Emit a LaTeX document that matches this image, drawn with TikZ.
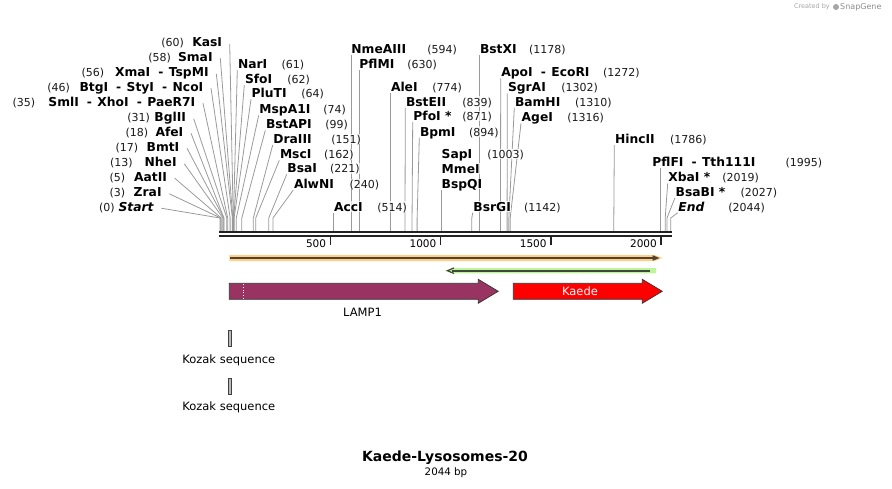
\documentclass[tikz,border=0pt]{standalone}
\usepackage{fontspec}
\setmainfont{DejaVu Sans}
\usetikzlibrary{calc}
\pgfdeclarelayer{bg}
\pgfsetlayers{bg,main}
\definecolor{cutgray}{HTML}{9A9A9A}
\definecolor{rulerdark}{HTML}{222222}
\definecolor{lampfill}{HTML}{993362}
\definecolor{orangeband}{HTML}{FFCF87}
\definecolor{orangeline}{HTML}{4F4434}
\definecolor{greenband}{HTML}{BEF59C}
\definecolor{greenline}{HTML}{3E4A38}
\definecolor{postext}{HTML}{1A1A1A}
\definecolor{kozakfill}{HTML}{BBBBBB}
\newcommand\siteX[1]{220+0.2205*#1}
\newcommand\ensep{\hspace{8pt}-\hspace{5.5pt}}
\newcommand\leftenz[6]{%
  \coordinate (s#1) at ({\siteX{#2}},218);
  \coordinate (r#1) at ({\siteX{#2}},231.3);
  \node[poslabel, anchor=west] (p#1) at (#4,#6) {(#2)};
  \node[namelabel, anchor=east] (n#1) at (#5,#6) {#3};
  \coordinate (t#1) at ($(n#1.east)+(7,1.5)$);
  \begin{pgfonlayer}{bg}
  \draw[cutline] (t#1) -- (s#1) -- (r#1);
  \end{pgfonlayer}}
\newcommand\rightenz[6]{%
  \coordinate (s#1) at ({\siteX{#2}},218);
  \coordinate (r#1) at ({\siteX{#2}},231.3);
  \node[namelabel, anchor=west] (n#1) at (#4,#6) {#3};
  \node[poslabel, anchor=west] (p#1) at (#5,#6) {(#2)};
  \coordinate (t#1) at ({max(\siteX{#2},#4)},{#6+6});
  \begin{pgfonlayer}{bg}
  \draw[cutline] (t#1) -- (s#1) -- (r#1);
  \end{pgfonlayer}}
\begin{document}
\begin{tikzpicture}[x=1pt,y=-1pt,
  namelabel/.style={font=\fontsize{12.3}{14}\selectfont\bfseries, inner xsep=0.5pt, inner ysep=1pt, text height=8.8pt, text depth=0pt, fill=white, fill opacity=0.7, text opacity=1},
  poslabel/.style={font=\fontsize{11}{13}\selectfont, text=postext, inner xsep=0.5pt, inner ysep=1pt, text height=8.8pt, text depth=0pt, fill=white, fill opacity=0.7, text opacity=1},
  cutline/.style={draw=cutgray, line width=0.8pt},
  rulerline/.style={draw=rulerdark, line width=2pt},
  tickmark/.style={draw=rulerdark, line width=1.5pt},
  ticklabel/.style={font=\fontsize{10.5}{12}\selectfont, inner sep=0pt},
  featlabel/.style={font=\fontsize{11.5}{13}\selectfont, inner sep=0pt},
  featborder/.style={draw=black!80, line width=0.7pt},
  kozakbox/.style={fill=kozakfill, draw=black!75, line width=0.6pt}
]
\useasboundingbox (0,0) rectangle (892,488);

% logo
\node[font=\fontsize{6.5}{8}\selectfont, text=black!35, inner sep=0pt, anchor=east] (cby) at (830,7) {Created by};
\node[circle, fill=black!35, minimum size=6pt, inner sep=0pt] (logo) at (836,7) {};
\node[font=\fontsize{8}{9}\selectfont, text=black!45, inner sep=0pt, anchor=west] (sg) at (840,7) {SnapGene};

% ruler
\coordinate (rl1) at (219,232.3); \coordinate (rr1) at (672,232.3);
\coordinate (rl2) at (219,235.8); \coordinate (rr2) at (672,235.8);
\draw[rulerline] (rl1) -- (rr1);
\draw[rulerline] (rl2) -- (rr2);
\foreach \v in {500,1000,1500,2000}{
  \coordinate (ta\v) at ({\siteX{\v}},236);
  \coordinate (tb\v) at ({\siteX{\v}},244.5);
  \draw[tickmark] (ta\v) -- (tb\v);
  \node[ticklabel, anchor=east] (tl\v) at ({\siteX{\v}-4},244) {\v};
}

% left cluster
\leftenz{kas}{60}{KasI}{160.7}{222.7}{42.3}
\leftenz{sma}{58}{SmaI}{147.7}{213.3}{56.7}
\leftenz{xma}{56}{XmaI\ensep TspMI}{81}{209.3}{72.3}
\leftenz{btg}{46}{BtgI\ensep StyI\ensep NcoI}{46.7}{204}{86.7}
\leftenz{sml}{35}{SmlI\ensep XhoI\ensep PaeR7I}{12}{196}{101.7}
\leftenz{bgl}{31}{BglII}{126.7}{186.7}{117.3}
\leftenz{afe}{18}{AfeI}{125}{184}{131.7}
\leftenz{bmt}{17}{BmtI}{115}{180}{146.7}
\leftenz{nhe}{13}{NheI}{109.3}{177.3}{162.3}
\leftenz{aat}{5}{AatII}{109}{167.7}{176.7}
\leftenz{zra}{3}{ZraI}{109}{162.3}{192.3}
\leftenz{start}{0}{\itshape Start}{98.3}{154.3}{206.7}

% right-hand labels
\rightenz{nar}{61}{NarI}{237.3}{281}{64}
\rightenz{sfo}{62}{SfoI}{244.3}{286.7}{79}
\rightenz{plu}{64}{PluTI}{251}{300.7}{93.3}
\rightenz{msp}{74}{MspA1I}{258.7}{322.7}{109.3}
\rightenz{bstap}{99}{BstAPI}{265.3}{324.7}{124.3}
\rightenz{dra}{151}{DraIII}{272.7}{330.7}{139}
\rightenz{msc}{162}{MscI}{279.3}{323.3}{154.3}
\rightenz{bsa}{221}{BsaI}{286.7}{329.3}{168.3}
\rightenz{alw}{240}{AlwNI}{293.3}{349}{184}
\rightenz{acc}{514}{AccI}{333.3}{376.7}{206.7}
\rightenz{nme}{594}{NmeAIII}{350.7}{426.7}{49}
\rightenz{pflm}{630}{PflMI}{358.7}{406.7}{64}
\rightenz{ale}{774}{AleI}{390.3}{431.7}{87.3}
\rightenz{bste}{839}{BstEII}{405.3}{461.7}{101.7}
\rightenz{pfo}{871}{PfoI *}{412.7}{461.7}{116}
\rightenz{bpm}{894}{BpmI}{419.3}{468.3}{131.7}
% SapI / MmeI / BspQI
\coordinate (ssap) at ({\siteX{1003}},218);
\coordinate (rsap) at ({\siteX{1003}},231.3);
\node[namelabel, anchor=west] (nsap) at (441,154) {SapI};
\node[namelabel, anchor=west] (nmme) at (441,168.7) {MmeI};
\node[namelabel, anchor=west] (nbspq) at (441,184) {BspQI};
\node[poslabel, anchor=west] (psap) at (486.7,154) {(1003)};
\coordinate (tsap) at ({\siteX{1003}},190);
\begin{pgfonlayer}{bg}
\draw[cutline] (tsap) -- (ssap) -- (rsap);
\end{pgfonlayer}
\rightenz{bsrg}{1142}{BsrGI}{472.7}{523.3}{206.7}
\rightenz{bstx}{1178}{BstXI}{479.3}{528.3}{49}
\rightenz{apo}{1272}{ApoI\ensep EcoRI}{500.7}{602.3}{72.3}
\rightenz{sgr}{1302}{SgrAI}{507.3}{560.7}{87.3}
\rightenz{bam}{1310}{BamHI}{514.3}{574.3}{101.7}
\rightenz{age}{1316}{AgeI}{521}{566.7}{117.3}
\rightenz{hinc}{1786}{HincII}{614.3}{669.3}{139}
\rightenz{pflf}{1995}{PflFI\ensep Tth111I}{651.7}{785}{161.7}
\rightenz{xba}{2019}{XbaI *}{667.7}{721.7}{177.3}
\rightenz{bsab}{2027}{BsaBI *}{675}{740}{191.7}
\rightenz{endl}{2044}{\itshape End}{677.7}{727.7}{206.7}

% orange feature (forward)
\fill[orangeband] (229.3,255) -- (655,255) -- (662,258) -- (655,261) -- (229.3,261) -- cycle;
\coordinate (oa) at (230,258); \coordinate (ob) at (654,258);
\draw[orangeline, line width=1.6pt] (oa) -- (ob);
\fill[orangeline] (652.5,255.2) -- (659.5,258) -- (652.5,260.8) -- cycle;

% green feature (reverse)
\fill[greenband] (453,268) -- (656,268) -- (656,273.4) -- (453,273.4) -- (444.5,270.7) -- cycle;
\coordinate (ga) at (452,270.7); \coordinate (gb) at (650,270.7);
\draw[greenline, line width=1.6pt] (ga) -- (gb);
\draw[greenline, line width=1.2pt] (454,267.9) -- (447.5,270.7) -- (454,273.5);

% LAMP1
\draw[featborder, fill=lampfill] (229.3,283.3) -- (478.3,283.3) -- (478.3,279.3) -- (498.3,291.3) -- (478.3,303.3) -- (478.3,299.3) -- (229.3,299.3) -- cycle;
\draw[white, dotted, line width=0.8pt] (243.3,284) -- (243.3,298.6);
\node[featlabel] (lamp) at (362.5,312.7) {LAMP1};

% Kaede
\draw[featborder, fill=red] (513.3,283.3) -- (642.3,283.3) -- (642.3,279.3) -- (662.3,291.3) -- (642.3,303.3) -- (642.3,299.3) -- (513.3,299.3) -- cycle;
\node[featlabel, text=white] (kaede) at (580,291.3) {Kaede};

% Kozak
\draw[kozakbox] (228.3,330) rectangle (231,346);
\node[featlabel] (koz1) at (228.8,360) {Kozak sequence};
\draw[kozakbox] (228.3,378.3) rectangle (231,394);
\node[featlabel] (koz2) at (228.8,407.3) {Kozak sequence};

% title
\node[font=\fontsize{14}{16}\selectfont\bfseries, inner sep=0pt] (title) at (445,457.3) {Kaede-Lysosomes-20};
\node[font=\fontsize{10.3}{12}\selectfont, inner sep=0pt] (bp) at (446,473) {2044 bp};
\end{tikzpicture}
\end{document}
